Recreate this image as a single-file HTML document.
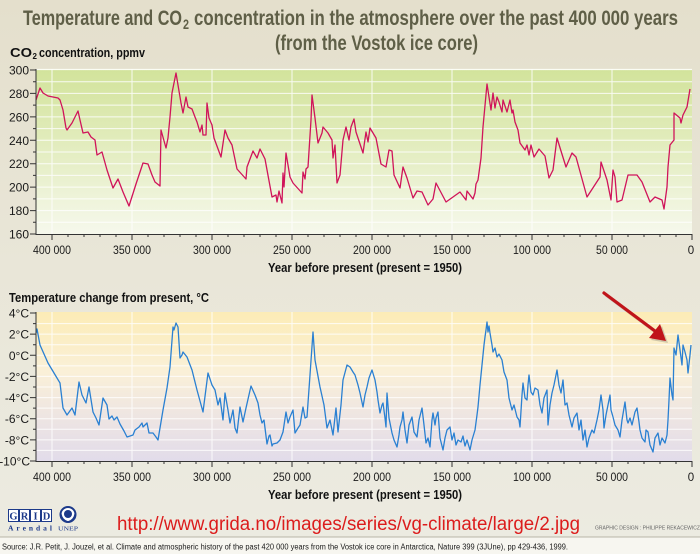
<!DOCTYPE html>
<html>
<head>
<meta charset="utf-8">
<style>
html,body{margin:0;padding:0;background:#e8e5d6;}
svg{display:block;}
</style>
</head>
<body>
<svg width="700" height="554" viewBox="0 0 700 554" xmlns="http://www.w3.org/2000/svg" font-family="'Liberation Sans', sans-serif">
<defs>
<linearGradient id="bg" x1="0" y1="0" x2="0" y2="1">
<stop offset="0" stop-color="#e4dfcc"/>
<stop offset="0.5" stop-color="#e9e6d8"/>
<stop offset="1" stop-color="#ecebe1"/>
</linearGradient>
<linearGradient id="g1" x1="0" y1="0" x2="0" y2="1">
<stop offset="0" stop-color="#d2e39b"/>
<stop offset="0.45" stop-color="#e2ecbd"/>
<stop offset="1" stop-color="#f6f8ec"/>
</linearGradient>
<linearGradient id="g2" x1="0" y1="0" x2="0" y2="1">
<stop offset="0" stop-color="#fcecb6"/>
<stop offset="0.4" stop-color="#faf0d8"/>
<stop offset="0.7" stop-color="#eee5e2"/>
<stop offset="1" stop-color="#e2dcea"/>
</linearGradient>
</defs>
<rect x="0" y="0" width="700" height="537" fill="url(#bg)"/>
<rect x="0" y="537" width="700" height="17" fill="#f7f6f0"/>
<line x1="0" y1="537" x2="700" y2="537" stroke="#b9b6a8" stroke-width="1"/>

<!-- Title -->
<g fill="#5f5f47" font-weight="bold" font-size="21">
<text x="23" y="25" textLength="159" lengthAdjust="spacingAndGlyphs">Temperature and CO</text>
<text x="183" y="29" font-size="14" textLength="6" lengthAdjust="spacingAndGlyphs">2</text>
<text x="194" y="25" textLength="484" lengthAdjust="spacingAndGlyphs">concentration in the atmosphere over the past 400 000 years</text>
<text x="275" y="50" textLength="203" lengthAdjust="spacingAndGlyphs">(from the Vostok ice core)</text>
</g>

<!-- Top chart -->
<text x="10" y="57" font-size="13" font-weight="bold" fill="#111" textLength="22" lengthAdjust="spacingAndGlyphs">CO</text>
<text x="32.5" y="59" font-size="8" font-weight="bold" fill="#111">2</text>
<text x="39" y="57" font-size="13" font-weight="bold" fill="#111" textLength="106" lengthAdjust="spacingAndGlyphs">concentration, ppmv</text>

<rect x="36" y="69" width="656" height="165" fill="url(#g1)"/>
<line x1="36" y1="69.5" x2="692" y2="69.5" stroke="#fbfdf4" stroke-width="1.2"/>
<g stroke="#ffffff" stroke-width="1" opacity="0.85">
<path d="M36 81.7H692M36 93.4H692M36 105.1H692M36 116.9H692M36 128.6H692M36 140.3H692M36 152H692M36 163.7H692M36 175.4H692M36 187.1H692M36 198.9H692M36 210.6H692M36 222.3H692"/>
<path d="M52 69V234M132 69V234M212 69V234M292 69V234M372 69V234M452 69V234M532 69V234M612 69V234"/>
</g>
<polyline fill="none" stroke="#d0145a" stroke-width="1.3" stroke-linejoin="round" points="36,100 40,88 43,93 48,96 58,98 60,100 63,110 66,128 67,130 72,123 78,111 80,120 83,133 88,132 91,137 95,140 97,155 102,152 107,170 113,188 118,179 123,192 129,206 136,184 143,163 148,164 152,175 155,182 160,186 161,130 166,148 168,138 170,117 172,93 176,73 178,85 181,103 183,113 186,97 188,107 192,109 195,117 197,122 200,132 202,125 203,135 206,135 207,103 209,118 212,125 214,138 221,157 225,130 228,138 232,145 237,169 246,179 247,167 253,151 257,158 260,149 265,159 272,197 276,195 277,202 279,191 282,203 283,173 284,187 286,153 290,177 293,183 302,193 303,172 305,179 306,169 308,167 311,120 312,95 315,118 318,143 322,133 323,127 328,133 332,140 333,158 335,145 337,183 340,175 343,140 346,127 349,140 351,127 354,119 356,132 363,153 366,132 368,142 370,128 376,138 381,164 386,167 389,150 392,151 394,175 400,188 403,167 407,178 413,198 417,191 422,192 428,205 433,199 436,183 446,202 460,192 466,200 467,191 473,199 475,193 476,184 478,180 481,158 483,127 487,84 491,110 493,93 495,108 497,97 499,102 502,112 503,100 507,112 510,100 512,113 513,110 515,122 518,130 520,143 525,150 527,145 529,155 531,145 534,157 539,149 545,156 549,178 553,170 557,138 561,151 566,167 572,153 576,157 587,197 600,177 601,162 607,180 611,200 613,170 615,177 617,202 622,200 628,175 637,175 642,182 650,202 655,197 662,200 664,209 667,187 668,167 670,145 674,140 674,113 680,118 681,123 683,115 687,107 690,89"/>
<g stroke="#333" stroke-width="1" fill="none">
<path d="M36 69V234.5H692"/>
<path d="M30 70H36M30 93.4H36M30 116.9H36M30 140.3H36M30 163.7H36M30 187.1H36M30 210.6H36M30 234H36"/>
<path d="M33 81.7H36M33 105.1H36M33 128.6H36M33 152H36M33 175.4H36M33 198.9H36M33 222.3H36"/>
<path d="M52 234V240M132 234V240M212 234V240M292 234V240M372 234V240M452 234V240M532 234V240M612 234V240M692 234V240"/>
<path d="M68 234V237M84 234V237M100 234V237M116 234V237M148 234V237M164 234V237M180 234V237M196 234V237M228 234V237M244 234V237M260 234V237M276 234V237M308 234V237M324 234V237M340 234V237M356 234V237M388 234V237M404 234V237M420 234V237M436 234V237M468 234V237M484 234V237M500 234V237M516 234V237M548 234V237M564 234V237M580 234V237M596 234V237M628 234V237M644 234V237M660 234V237M676 234V237"/>
</g>
<g font-size="12" fill="#1a1a1a" text-anchor="end">
<text x="29" y="74.5">300</text>
<text x="29" y="97.9">280</text>
<text x="29" y="121.4">260</text>
<text x="29" y="144.8">240</text>
<text x="29" y="168.2">220</text>
<text x="29" y="191.6">200</text>
<text x="29" y="215.1">180</text>
<text x="29" y="238.5">160</text>
</g>
<g font-size="11.5" fill="#1a1a1a" text-anchor="middle">
<text x="52" y="254" textLength="38" lengthAdjust="spacingAndGlyphs">400 000</text>
<text x="132" y="254" textLength="38" lengthAdjust="spacingAndGlyphs">350 000</text>
<text x="212" y="254" textLength="38" lengthAdjust="spacingAndGlyphs">300 000</text>
<text x="292" y="254" textLength="38" lengthAdjust="spacingAndGlyphs">250 000</text>
<text x="372" y="254" textLength="38" lengthAdjust="spacingAndGlyphs">200 000</text>
<text x="452" y="254" textLength="38" lengthAdjust="spacingAndGlyphs">150 000</text>
<text x="532" y="254" textLength="38" lengthAdjust="spacingAndGlyphs">100 000</text>
<text x="612" y="254" textLength="32" lengthAdjust="spacingAndGlyphs">50 000</text>
<text x="691" y="254">0</text>
</g>
<text x="268" y="272" font-size="13" font-weight="bold" fill="#111" textLength="194" lengthAdjust="spacingAndGlyphs">Year before present (present = 1950)</text>

<!-- Bottom chart -->
<text x="9" y="302" font-size="13" font-weight="bold" fill="#111" textLength="200" lengthAdjust="spacingAndGlyphs">Temperature change from present, °C</text>
<rect x="36" y="312" width="656" height="149" fill="url(#g2)"/>
<g stroke="#ffffff" stroke-width="1" opacity="0.85">
<path d="M36 323.6H692M36 334.1H692M36 344.7H692M36 355.3H692M36 365.9H692M36 376.4H692M36 387H692M36 397.6H692M36 408.1H692M36 418.7H692M36 429.3H692M36 439.9H692M36 450.4H692"/>
<path d="M52 312V461M132 312V461M212 312V461M292 312V461M372 312V461M452 312V461M532 312V461M612 312V461"/>
</g>
<polyline fill="none" stroke="#2a80d2" stroke-width="1.3" stroke-linejoin="round" points="36,333 37,329 40,345 44,354 48,363 54,373 60,383 63,408 67,415 72,408 75,415 79,382 82,395 86,403 89,387 93,412 96,418 99,425 103,398 107,405 109,419 112,416 114,420 117,417 120,424 124,431 127,437 133,435 135,430 139,427 142,423 143,427 147,423 149,433 153,433 156,437 158,440 163,410 167,388 170,367 173,327 174,330 176,323 178,327 180,358 182,355 183,352 187,357 192,370 197,390 203,412 208,373 212,385 215,390 218,405 220,398 223,420 225,393 228,410 230,423 233,410 235,428 237,433 240,407 243,422 246,408 251,386 255,395 258,403 260,415 262,423 264,420 267,444 269,436 270,435 272,446 273,444 277,443 280,440 283,432 286,412 288,423 290,417 293,410 295,433 298,428 300,425 303,407 305,418 307,417 310,375 313,332 315,360 320,387 324,405 327,428 330,420 333,435 336,408 338,432 341,405 343,380 347,365 350,367 353,372 355,375 358,385 360,393 363,407 365,395 367,387 369,378 372,370 375,380 377,392 378,400 380,413 382,405 383,403 385,418 386,427 387,393 389,418 392,433 394,440 397,447 399,435 400,427 402,420 403,412 405,430 407,443 409,425 412,417 414,432 417,437 419,420 422,408 424,425 426,443 428,438 430,447 432,420 433,413 435,425 436,418 438,412 440,438 443,450 445,438 447,430 450,427 452,440 454,433 456,445 458,440 461,442 463,436 465,446 467,440 470,450 472,440 475,430 477,415 478,407 480,385 483,355 484,345 485,337 486,330 487,322 488,332 489,326 490,333 492,345 493,352 495,348 497,357 499,354 502,360 504,372 507,380 509,398 512,410 514,405 517,417 519,420 520,427 522,395 523,383 525,398 527,400 528,385 529,375 531,392 533,395 535,388 538,390 540,405 542,413 544,398 547,390 548,425 550,405 552,393 554,385 557,370 559,385 561,393 563,380 565,405 567,403 569,415 572,427 574,418 577,413 579,430 581,420 583,440 585,430 587,447 589,438 592,430 594,433 597,420 599,410 601,395 603,410 604,428 606,415 608,405 610,395 611,410 613,417 615,425 618,430 620,437 622,420 625,402 627,420 628,423 630,418 632,425 635,412 637,408 639,422 640,430 642,438 645,442 646,430 648,432 650,445 653,452 655,438 658,433 660,445 662,438 665,443 667,435 668,420 669,400 670,378 672,395 673,400 674,348 676,355 678,335 680,350 682,365 683,345 685,352 687,360 688,373 690,355 691,345"/>
<g stroke="#333" stroke-width="1" fill="none">
<path d="M36 312V461.5H692"/>
<path d="M30 313H36M30 334.1H36M30 355.3H36M30 376.4H36M30 397.6H36M30 418.7H36M30 439.9H36M30 461H36"/>
<path d="M33 323.6H36M33 344.7H36M33 365.9H36M33 387H36M33 408.1H36M33 429.3H36M33 450.4H36"/>
<path d="M52 461V467M132 461V467M212 461V467M292 461V467M372 461V467M452 461V467M532 461V467M612 461V467M692 461V467"/>
<path d="M68 461V464M84 461V464M100 461V464M116 461V464M148 461V464M164 461V464M180 461V464M196 461V464M228 461V464M244 461V464M260 461V464M276 461V464M308 461V464M324 461V464M340 461V464M356 461V464M388 461V464M404 461V464M420 461V464M436 461V464M468 461V464M484 461V464M500 461V464M516 461V464M548 461V464M564 461V464M580 461V464M596 461V464M628 461V464M644 461V464M660 461V464M676 461V464"/>
</g>
<g font-size="12" fill="#1a1a1a" text-anchor="end">
<text x="29" y="317.5">4°C</text>
<text x="29" y="338.6">2°C</text>
<text x="29" y="359.8">0°C</text>
<text x="29" y="380.9">-2°C</text>
<text x="29" y="402.1">-4°C</text>
<text x="29" y="423.2">-6°C</text>
<text x="29" y="444.4">-8°C</text>
<text x="30" y="465.5">-10°C</text>
</g>
<g font-size="11.5" fill="#1a1a1a" text-anchor="middle">
<text x="52" y="481" textLength="38" lengthAdjust="spacingAndGlyphs">400 000</text>
<text x="132" y="481" textLength="38" lengthAdjust="spacingAndGlyphs">350 000</text>
<text x="212" y="481" textLength="38" lengthAdjust="spacingAndGlyphs">300 000</text>
<text x="292" y="481" textLength="38" lengthAdjust="spacingAndGlyphs">250 000</text>
<text x="372" y="481" textLength="38" lengthAdjust="spacingAndGlyphs">200 000</text>
<text x="452" y="481" textLength="38" lengthAdjust="spacingAndGlyphs">150 000</text>
<text x="532" y="481" textLength="38" lengthAdjust="spacingAndGlyphs">100 000</text>
<text x="612" y="481" textLength="32" lengthAdjust="spacingAndGlyphs">50 000</text>
<text x="691" y="481">0</text>
</g>
<text x="268" y="499" font-size="13" font-weight="bold" fill="#111" textLength="194" lengthAdjust="spacingAndGlyphs">Year before present (present = 1950)</text>

<!-- Red arrow -->
<g opacity="0.25" transform="translate(2,2)">
<line x1="604" y1="293" x2="655" y2="331" stroke="#555" stroke-width="3.2"/>
<polygon points="649,338 660,324 666,341" fill="#555"/>
</g>
<line x1="604" y1="293" x2="655" y2="331" stroke="#c0141a" stroke-width="3.2" stroke-linecap="round"/>
<polygon points="649,338 660,324 666,341" fill="#c0141a"/>

<!-- Footer logos -->
<g stroke="#1d3a8a" stroke-width="1" fill="#fff">
<rect x="8.5" y="509.5" width="10" height="12"/>
<rect x="19.5" y="509.5" width="10" height="12"/>
<rect x="30.5" y="509.5" width="10" height="12"/>
<rect x="41.5" y="509.5" width="10" height="12"/>
</g>
<g font-family="'Liberation Serif', serif" font-weight="bold" fill="#1d3a8a" text-anchor="middle">
<text x="13.5" y="519.5" font-size="10.5">G</text>
<text x="24.5" y="519.5" font-size="10.5">R</text>
<text x="35.5" y="519.5" font-size="10.5">I</text>
<text x="46.5" y="519.5" font-size="10.5">D</text>
<text x="30" y="530.5" font-size="7.5" textLength="44" lengthAdjust="spacing">Arendal</text>
<text x="68" y="530.5" font-size="6.5" font-weight="normal" textLength="20" lengthAdjust="spacingAndGlyphs">UNEP</text>
</g>
<circle cx="68" cy="514.5" r="7.5" fill="#fff" stroke="#1d3a8a" stroke-width="2"/>
<circle cx="68" cy="514" r="4" fill="#1d3a8a"/>
<path d="M61 514 Q62 520 68 522 Q74 520 75 514" fill="none" stroke="#1d3a8a" stroke-width="1.2"/>

<text x="117" y="530" font-size="19" fill="#dc1c1c" textLength="463" lengthAdjust="spacingAndGlyphs">http://www.grida.no/images/series/vg-climate/large/2.jpg</text>
<text x="595" y="529.5" font-size="5" fill="#666" textLength="105" lengthAdjust="spacingAndGlyphs">GRAPHIC DESIGN : PHILIPPE REKACEWICZ</text>
<text x="2" y="549.5" font-size="8" fill="#1a1a1a" textLength="566" lengthAdjust="spacingAndGlyphs">Source: J.R. Petit, J. Jouzel, et al. Climate and atmospheric history of the past 420 000 years from the Vostok ice core in Antarctica, Nature 399 (3JUne), pp 429-436, 1999.</text>
</svg>
</body>
</html>
